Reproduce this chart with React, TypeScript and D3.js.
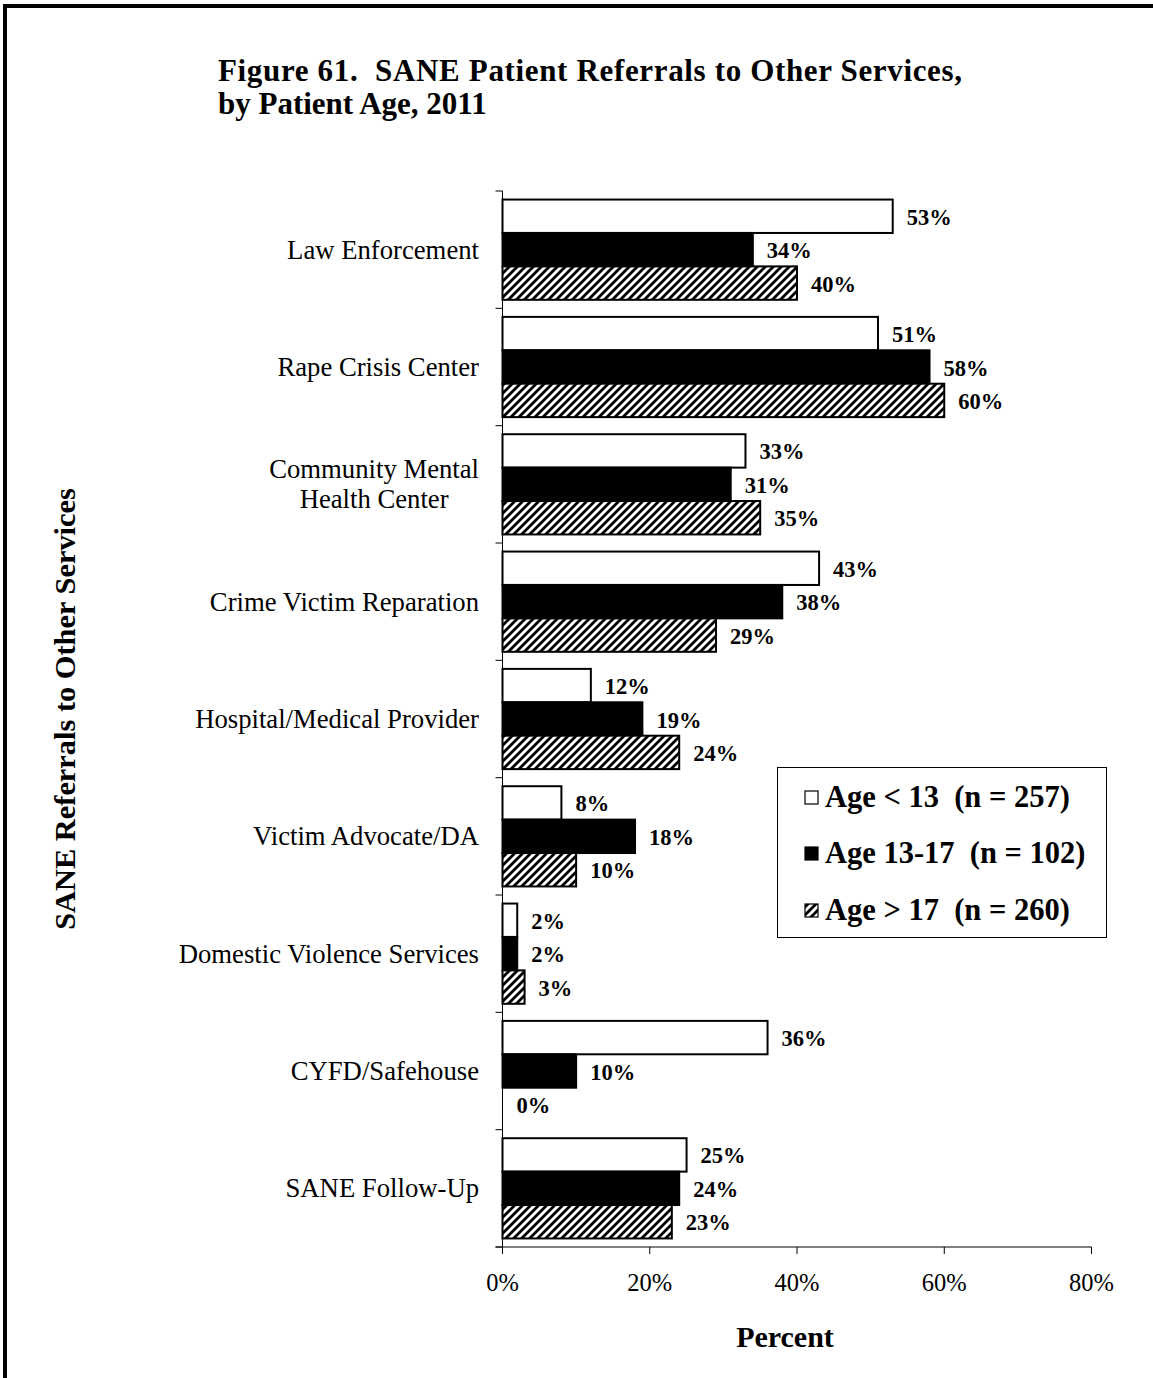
import React, { useEffect, useRef } from "react";
import * as d3 from "d3";

const categories = [
  "Law Enforcement",
  "Rape Crisis Center",
  "Community Mental\nHealth Center",
  "Crime Victim Reparation",
  "Hospital/Medical Provider",
  "Victim Advocate/DA",
  "Domestic Violence Services",
  "CYFD/Safehouse",
  "SANE Follow-Up",
];
const seriesNames = ["Age < 13  (n = 257)", "Age 13-17  (n = 102)", "Age > 17  (n = 260)"];
const ageUnder13 = [53, 51, 33, 43, 12, 8, 2, 36, 25];
const age13to17 = [34, 58, 31, 38, 19, 18, 2, 10, 24];
const ageOver17 = [40, 60, 35, 29, 24, 10, 3, 0, 23];
const xTicks = [0, 20, 40, 60, 80];

const W = 1153;
const H = 1378;
const SERIF = "'Liberation Serif', 'Times New Roman', serif";

export default function App() {
  const ref = useRef<SVGSVGElement | null>(null);

  useEffect(() => {
    const svg = d3.select(ref.current);
    svg.selectAll("*").remove();

    const defs = svg.append("defs");
    const pat = defs
      .append("pattern")
      .attr("id", "hatch")
      .attr("patternUnits", "userSpaceOnUse")
      .attr("width", 8)
      .attr("height", 8);
    pat.append("rect").attr("width", 8).attr("height", 8).attr("fill", "#fff");
    pat
      .append("path")
      .attr("d", "M-2,2 L2,-2 M0,8 L8,0 M6,10 L10,6")
      .attr("stroke", "#000")
      .attr("stroke-width", 2.8);

    // outer frame
    svg
      .append("rect")
      .attr("x", 5)
      .attr("y", 6)
      .attr("width", 1300)
      .attr("height", 1500)
      .attr("fill", "none")
      .attr("stroke", "#000")
      .attr("stroke-width", 4);

    // title
    const title = svg
      .append("text")
      .attr("font-family", SERIF)
      .attr("font-weight", "bold")
      .attr("font-size", 31)
      .attr("fill", "#000");
    title
      .append("tspan")
      .attr("x", 218)
      .attr("y", 81)
      .attr("textLength", 744)
      .attr("lengthAdjust", "spacing")
      .style("white-space", "pre")
      .text("Figure 61.  SANE Patient Referrals to Other Services,");
    title.append("tspan").attr("x", 218).attr("y", 114).text("by Patient Age, 2011");

    const x = d3.scaleLinear().domain([0, 80]).range([502.5, 1091.5]);
    const y = d3.scaleBand<string>().domain(categories).range([191, 1247]).padding(0);
    const yInner = d3
      .scaleBand<number>()
      .domain([0, 1, 2])
      .range([0, y.bandwidth()])
      .paddingInner(0)
      .paddingOuter(0.256);

    const series = [ageUnder13, age13to17, ageOver17];
    const fills = ["#fff", "#000", "url(#hatch)"];

    const g = svg.append("g");

    categories.forEach((c, ci) => {
      series.forEach((vals, si) => {
        const v = vals[ci];
        const by = (y(c) as number) + (yInner(si) as number);
        const bh = yInner.bandwidth();
        if (v > 0) {
          g.append("rect")
            .attr("x", x(0))
            .attr("y", by)
            .attr("width", x(v) - x(0))
            .attr("height", bh)
            .attr("fill", fills[si])
            .attr("stroke", "#000")
            .attr("stroke-width", 2);
        }
        g.append("text")
          .attr("x", x(v) + 14)
          .attr("y", by + bh / 2 + 8.5)
          .attr("font-family", SERIF)
          .attr("font-weight", "bold")
          .attr("font-size", 22.5)
          .attr("fill", "#000")
          .text(`${v}%`);
      });
    });

    // y axis
    const axisColor = "#000";
    svg
      .append("line")
      .attr("x1", x(0))
      .attr("x2", x(0))
      .attr("y1", 191)
      .attr("y2", 1247)
      .attr("stroke", axisColor)
      .attr("stroke-width", 1);
    const boundaries = categories.map((c) => y(c) as number).concat([1247]);
    boundaries.forEach((b) => {
      svg
        .append("line")
        .attr("x1", x(0) - 7)
        .attr("x2", x(0))
        .attr("y1", b)
        .attr("y2", b)
        .attr("stroke", axisColor)
        .attr("stroke-width", 1);
    });

    // category labels
    const labelRight = 479;
    categories.forEach((c) => {
      const lines = c.split("\n");
      const cy = (y(c) as number) + y.bandwidth() / 2;
      const t = svg
        .append("text")
        .attr("font-family", SERIF)
        .attr("font-size", 26.7)
        .attr("fill", "#000");
      const lh = 30;
      const top = cy - ((lines.length - 1) * lh) / 2 + 9;
      const spans = lines.map((ln, i) =>
        t.append("tspan").attr("y", top + i * lh).text(ln)
      );
      if (lines.length === 1) {
        t.attr("text-anchor", "end");
        spans[0].attr("x", labelRight);
      } else {
        const widths = spans.map((s) => (s.node() as SVGTextContentElement).getComputedTextLength());
        const maxW = Math.max(...widths);
        t.attr("text-anchor", "middle");
        spans.forEach((s) => s.attr("x", labelRight - maxW / 2));
      }
    });

    // x axis
    svg
      .append("line")
      .attr("x1", x(0) - 7)
      .attr("x2", x(80))
      .attr("y1", 1247)
      .attr("y2", 1247)
      .attr("stroke", axisColor)
      .attr("stroke-width", 1);
    xTicks.forEach((t) => {
      svg
        .append("line")
        .attr("x1", x(t))
        .attr("x2", x(t))
        .attr("y1", 1247)
        .attr("y2", 1254)
        .attr("stroke", axisColor)
        .attr("stroke-width", 1);
      svg
        .append("text")
        .attr("x", x(t))
        .attr("y", 1291)
        .attr("text-anchor", "middle")
        .attr("font-family", SERIF)
        .attr("font-size", 24.5)
        .attr("fill", "#000")
        .text(`${t}%`);
    });

    // axis titles
    svg
      .append("text")
      .attr("x", 785)
      .attr("y", 1347)
      .attr("text-anchor", "middle")
      .attr("font-family", SERIF)
      .attr("font-weight", "bold")
      .attr("font-size", 30)
      .attr("fill", "#000")
      .text("Percent");
    svg
      .append("text")
      .attr("transform", "translate(75,709) rotate(-90)")
      .attr("text-anchor", "middle")
      .attr("font-family", SERIF)
      .attr("font-weight", "bold")
      .attr("font-size", 30.4)
      .attr("fill", "#000")
      .text("SANE Referrals to Other Services");

    // legend
    const lg = svg.append("g");
    lg.append("rect")
      .attr("x", 777.5)
      .attr("y", 767.5)
      .attr("width", 329)
      .attr("height", 170)
      .attr("fill", "#fff")
      .attr("stroke", "#000")
      .attr("stroke-width", 1);
    const rowY = [797, 853, 910];
    seriesNames.forEach((name, i) => {
      lg.append("rect")
        .attr("x", 805)
        .attr("y", rowY[i] - 6)
        .attr("width", 13)
        .attr("height", 13)
        .attr("fill", fills[i])
        .attr("stroke", "#000")
        .attr("stroke-width", 1.2);
      lg.append("text")
        .attr("x", 825)
        .attr("y", rowY[i] + 10)
        .attr("font-family", SERIF)
        .attr("font-weight", "bold")
        .attr("font-size", 30.5)
        .attr("fill", "#000")
        .style("white-space", "pre")
        .text(name);
    });
  }, []);

  return (
    <svg
      ref={ref}
      width={W}
      height={H}
      style={{ position: "absolute", left: 0, top: 0, background: "#fff" }}
    />
  );
}
